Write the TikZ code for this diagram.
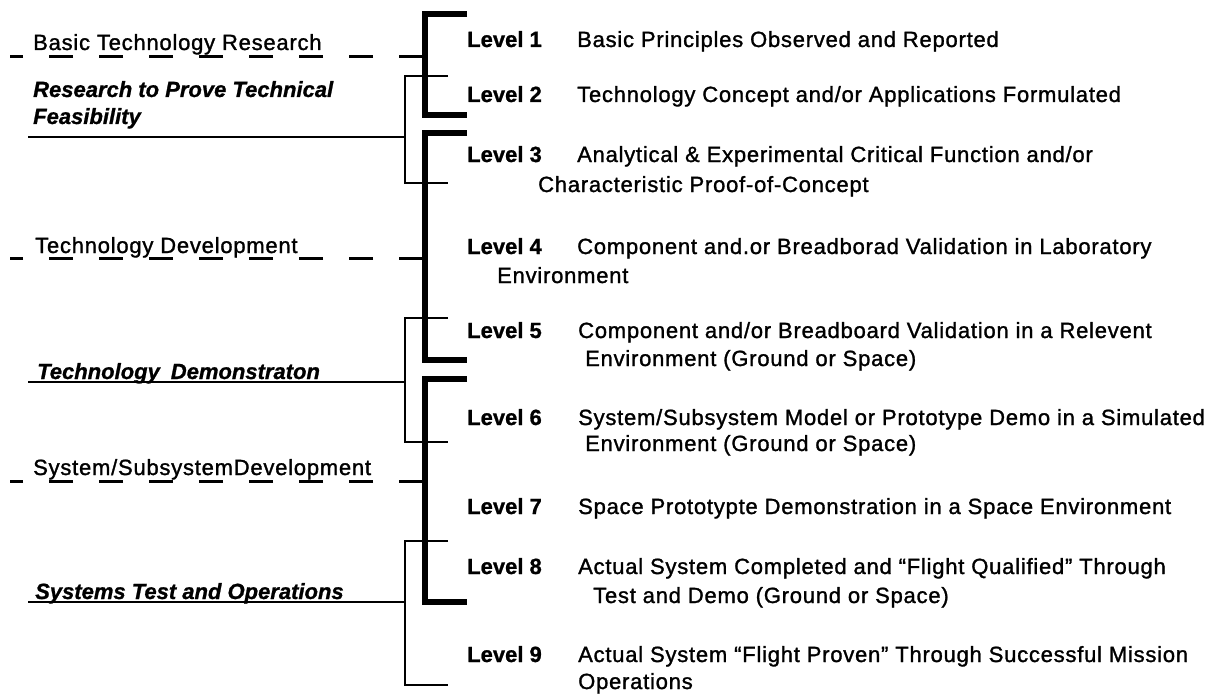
\documentclass[tikz,border=0pt]{standalone}
\usepackage{fontspec}
\setmainfont{Liberation Sans}
\newfontfamily\descfont[LetterSpace=3.5,FakeBold=1.3]{Liberation Sans}
\newfontfamily\headfont[FakeBold=1]{Liberation Sans}
\begin{document}
\begin{tikzpicture}[x=1pt,y=-1pt,
  lvl/.style={anchor=base west, inner sep=0pt, font=\fontsize{22}{26}\headfont\bfseries},
  desc/.style={anchor=base west, inner sep=0pt, font=\fontsize{22}{26}\descfont},
  phase/.style={anchor=base west, inner sep=0pt, font=\fontsize{22}{26}\descfont},
  stage/.style={anchor=base west, inner sep=0pt, font=\fontsize{22}{26}\headfont\bfseries\itshape},
  thickbr/.style={line width=5.5pt, line join=miter},
  thinbr/.style={line width=2.4pt, line join=miter},
  lead/.style={line width=2.4pt},
  dashlead/.style={line width=3pt, dash pattern=on 24pt off 26pt},
]
\useasboundingbox[fill=white] (0,0) rectangle (1225,698);

% ---- level descriptions ----
\node[lvl]  (l1)  at (467,47)  {Level 1};
\node[desc] (d1)  at (577,47)  {Basic Principles Observed and Reported};
\node[lvl]  (l2)  at (467,102) {Level 2};
\node[desc] (d2)  at (577,102) {Technology Concept and/or Applications Formulated};
\node[lvl]  (l3)  at (467,162) {Level 3};
\node[desc] (d3)  at (577,162) {Analytical \& Experimental Critical Function and/or};
\node[desc] (d3b) at (538,192) {Characteristic Proof-of-Concept};
\node[lvl]  (l4)  at (467,254) {Level 4};
\node[desc] (d4)  at (577,254) {Component and.or Breadborad Validation in Laboratory};
\node[desc] (d4b) at (497,283) {Environment};
\node[lvl]  (l5)  at (467,338) {Level 5};
\node[desc] (d5)  at (578,338) {Component and/or Breadboard Validation in a Relevent};
\node[desc] (d5b) at (585,366) {Environment (Ground or Space)};
\node[lvl]  (l6)  at (467,425) {Level 6};
\node[desc] (d6)  at (578,425) {System/Subsystem Model or Prototype Demo in a Simulated};
\node[desc] (d6b) at (585,451) {Environment (Ground or Space)};
\node[lvl]  (l7)  at (467,514) {Level 7};
\node[desc] (d7)  at (578,514) {Space Prototypte Demonstration in a Space Environment};
\node[lvl]  (l8)  at (467,574) {Level 8};
\node[desc] (d8)  at (578,574) {Actual System Completed and “Flight Qualified” Through};
\node[desc] (d8b) at (593,603) {Test and Demo (Ground or Space)};
\node[lvl]  (l9)  at (467,662) {Level 9};
\node[desc] (d9)  at (578,662) {Actual System “Flight Proven” Through Successful Mission};
\node[desc] (d9b) at (578,689) {Operations};

% ---- phase and stage labels on the left ----
\node[phase] (p1)  at (33,50)  {Basic Technology Research};
\node[stage] (s1a) at (33,97)  {Research to Prove Technical};
\node[stage] (s1b) at (33,124) {Feasibility};
\node[phase] (p2)  at (35,253) {Technology Development};
\node[stage] (s2)  at (37,379) {Technology\enspace Demonstraton};
\node[phase] (p3)  at (33,475) {System/SubsystemDevelopment};
\node[stage] (s3)  at (35,599) {Systems Test and Operations};

% ---- heavy brackets (phases) ----
\draw[thickbr] (467,14)  -- (425,14)  -- (425,115) -- (467,115);
\draw[thickbr] (467,133) -- (425,133) -- (425,360) -- (467,360);
\draw[thickbr] (467,379) -- (425,379) -- (425,602) -- (467,602);
\coordinate (b1) at (423,57);
\coordinate (b2) at (423,258);
\coordinate (b3) at (423,481);
\coordinate (e1) at (10,57);
\coordinate (e2) at (10,258);
\coordinate (e3) at (10,481);

% ---- light brackets (stages) ----
\draw[thinbr] (448,76)  -- (405,76)  -- (405,183) -- (448,183);
\draw[thinbr] (448,318) -- (405,318) -- (405,442) -- (448,442);
\draw[thinbr] (448,541) -- (405,541) -- (405,685) -- (448,685);
\coordinate (t1) at (405,137);
\coordinate (t2) at (405,382);
\coordinate (t3) at (405,602);
\coordinate (u1) at (28,137);
\coordinate (u2) at (28,382);
\coordinate (u3) at (28,602);

% ---- leaders ----
\draw[dashlead] (b1) -- (e1);
\draw[dashlead] (b2) -- (e2);
\draw[dashlead] (b3) -- (e3);
\draw[lead] (u1) -- (t1);
\draw[lead] (u2) -- (t2);
\draw[lead] (u3) -- (t3);
\end{tikzpicture}
\end{document}
